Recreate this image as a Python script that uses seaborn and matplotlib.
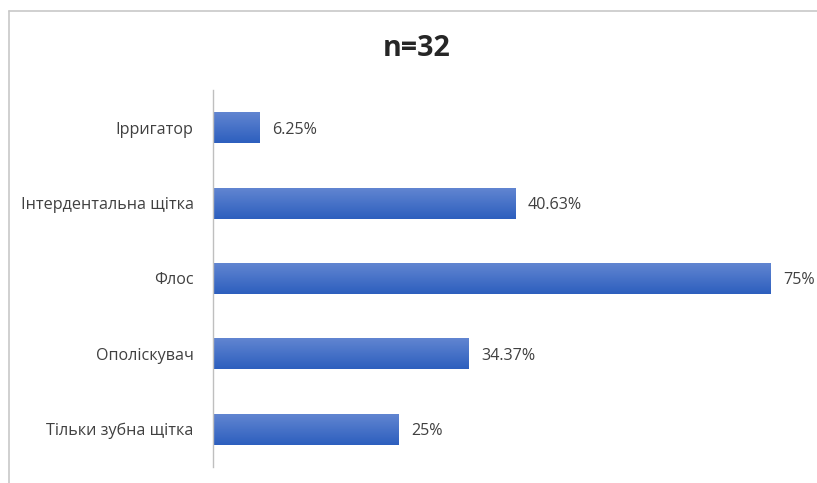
import numpy as np
import matplotlib.pyplot as plt
import pandas as pd
import seaborn as sns
from matplotlib.lines import Line2D

# data
categories = ["Ірригатор", "Інтердентальна щітка", "Флос", "Ополіскувач", "Тільки зубна щітка"]
values = [6.25, 40.63, 75, 34.37, 25]
value_labels = ["6.25%", "40.63%", "75%", "34.37%", "25%"]
title = "n=32"

df = pd.DataFrame({"category": categories, "value": values})

sns.set_theme(style="white")
plt.rcParams["font.family"] = ["Open Sans", "DejaVu Sans"]

fig = plt.figure(figsize=(8.17, 4.83), dpi=100)
ax = fig.add_axes([213 / 817, 1 - 467 / 483, 558 / 817, 377 / 483])

sns.barplot(data=df, x="value", y="category", orient="h", color="#4472c4",
            width=0.41, ax=ax)

# gradient fill on each bar (light on top, darker at the bottom)
grad = np.linspace(0, 1, 64).reshape(-1, 1)
cmap = plt.matplotlib.colors.LinearSegmentedColormap.from_list("bar", ["#6185d1", "#2d5fbe"])
for patch in ax.patches:
    x0, y0 = patch.get_x(), patch.get_y()
    w, h = patch.get_width(), patch.get_height()
    im = ax.imshow(grad, cmap=cmap, aspect="auto", origin="upper",
                   extent=(x0, x0 + w, y0 + h, y0), zorder=2)
    im.set_clip_path(patch)
    patch.set_edgecolor("none")

txts = ax.bar_label(ax.containers[0], labels=value_labels, padding=9,
                    fontsize=11.6, color="#404040")
for t in txts:
    t.set_va("center_baseline")

ax.set_xlim(0, 75)
ax.set_ylim(4.5, -0.5)
ax.set_xlabel("")
ax.set_ylabel("")
ax.set_xticks([])
ax.tick_params(axis="y", length=0, pad=14, labelsize=11.6, labelcolor="#404040")
for side in ["top", "right", "bottom"]:
    ax.spines[side].set_visible(False)
ax.spines["left"].set_color("#bfbfbf")
ax.spines["left"].set_linewidth(1.0)

fig.text(417 / 817, 1 - 48 / 483, title, ha="center", va="center",
         fontsize=20.5, fontweight="bold", color="#262626")

# outer chart border (only top and left visible in the crop)
fig.add_artist(Line2D([9 / 817, 9 / 817], [0, 1 - 11 / 483], color="#c8c8c8", lw=1.2,
                      transform=fig.transFigure))
fig.add_artist(Line2D([9 / 817, 1], [1 - 11 / 483, 1 - 11 / 483], color="#c8c8c8", lw=1.2,
                      transform=fig.transFigure))

fig.savefig("out.png", dpi=100)
